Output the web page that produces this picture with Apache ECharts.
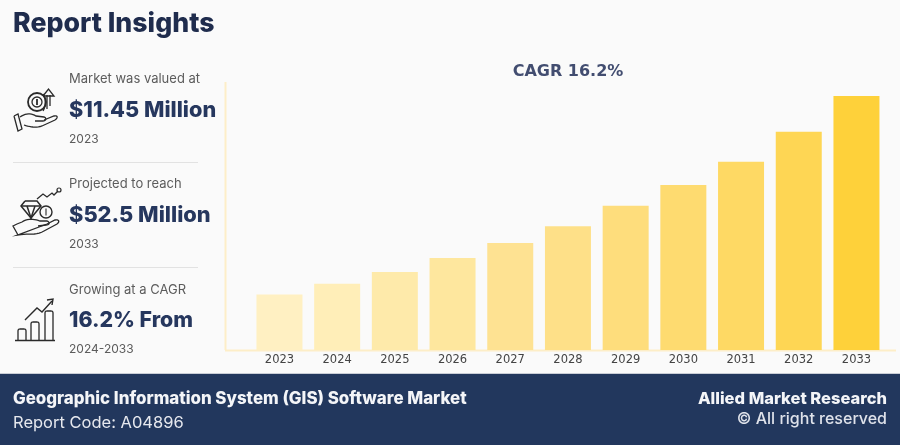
<!DOCTYPE html>
<html>
<head>
<meta charset="utf-8">
<style>html,body{margin:0;padding:0;background:#fafafa}#c{width:900px;height:445px}</style>
<script src="https://cdn.jsdelivr.net/npm/echarts@6/dist/echarts.min.js"></script>
</head>
<body>
<div id="c"></div>
<script>
const categories = ['2023','2024','2025','2026','2027','2028','2029','2030','2031','2032','2033'];
const marketValues = [11.45, 13.7, 16.1, 19.0, 22.1, 25.6, 29.8, 34.1, 38.9, 45.1, 52.5];
const barColors = ['#FFF0C2','#FFEEB8','#FEEAAA','#FEE79E','#FEE292','#FEE088','#FEDD7C','#FEDB70','#FED964','#FED654','#FED13A'];
const chartTitle = 'CAGR 16.2%';

const NAVY = '#26375e', INK = '#1f2c4d', GREY = '#5c5c5c', ICON = '#2a2a2a', LINE = '#fdeec8';
const SANS = 'Inter, "Noto Sans", sans-serif';

function text(t, x, y, size, weight, fill, align) {
  return { type:'text', x, y, silent:true, style:{ text:t, fontSize:size, fontWeight:weight, fontFamily:SANS, fill, align:align||'left', verticalAlign:'middle' } };
}
function stroke(w){ return { fill:'none', stroke:ICON, lineWidth:w||1.3 }; }
// Decorative icon outlines: flatten a small SVG-like path string to polylines.
function path(d, w){
  const tokens = d.match(/[MLCQZ]|-?[\d.]+/g), out = [];
  let i = 0, pts = [], cur = [0,0], start = [0,0];
  const num = () => parseFloat(tokens[i++]);
  const flush = () => { if (pts.length > 1) out.push({ type:'polyline', silent:true, shape:{ points:pts }, style:stroke(w) }); pts = []; };
  while (i < tokens.length) {
    const c = tokens[i++];
    if (c === 'M') { flush(); cur = [num(),num()]; start = cur; pts = [cur]; }
    else if (c === 'L') { cur = [num(),num()]; pts.push(cur); }
    else if (c === 'Z') { pts.push(start); cur = start; }
    else if (c === 'Q') {
      const a=[num(),num()], b=[num(),num()], p=cur;
      for (let k=1;k<=8;k++){ const t=k/8,u=1-t; pts.push([u*u*p[0]+2*u*t*a[0]+t*t*b[0], u*u*p[1]+2*u*t*a[1]+t*t*b[1]]); }
      cur = b;
    } else if (c === 'C') {
      const a=[num(),num()], b=[num(),num()], e=[num(),num()], p=cur;
      for (let k=1;k<=10;k++){ const t=k/10,u=1-t; pts.push([0,1].map(j=>u*u*u*p[j]+3*u*u*t*a[j]+3*u*t*t*b[j]+t*t*t*e[j])); }
      cur = e;
    }
  }
  flush();
  return out;
}
function circle(cx, cy, r, w){ return { type:'circle', silent:true, shape:{cx,cy,r}, style:stroke(w) }; }
function rule(x1,y1,x2,y2,color,w){ return { type:'line', silent:true, shape:{x1,y1,x2,y2}, style:{ stroke:color, lineWidth:w } }; }

const HAND1 = 'M14 116 L18 114 L22 129 L18 131 Z M20 117 C26 113 31 113 36 116 L44 117 C47 118 46 121 43 121 L35 121 M44 120 L54 116 C58 115 58 118 55 120 L42 126 C36 128 30 127 24 125';
const HAND2 = 'M18 235 L13 226 L17 224 L22 222 C28 218 34 219 40 221 L47 221 C50 222 50 225 46 225 L38 226 M47 224 L55 220 C59 219 60 222 57 224 L44 231 C36 236 28 233 18 235 Z';

const gfx = [
  { type:'rect', silent:true, z:-1, shape:{x:0,y:373,width:900,height:72}, style:{fill:'#22375d'} },
  rule(0,373.5,900,373.5,'#c9cdd6',1),
  rule(225.5,82,225.5,350,LINE,2),
  rule(225,350.5,896,350.5,LINE,2),
  rule(13,162.5,198,162.5,'#e2e2e2',1),
  rule(13,267.5,198,267.5,'#e2e2e2',1),

  text('Report Insights',13,24,26.7,800,INK),
  text('Market was valued at',69,79,13,400,GREY),
  text('$11.45 Million',69,110,21.7,800,NAVY),
  text('2023',69,139,12,400,GREY),
  text('Projected to reach',69,184,13,400,GREY),
  text('$52.5 Million',69,215,21.8,800,NAVY),
  text('2033',69,244,12,400,GREY),
  text('Growing at a CAGR',69,290,13,400,GREY),
  text('16.2% From',69,321,21.3,800,NAVY),
  text('2024-2033',69,349,12,400,GREY),

  text('Geographic Information System (GIS) Software Market',13,399,16.9,800,'#f4f5f8'),
  text('Report Code: A04896',13,423,16.5,400,'#e6e8ee'),
  text('Allied Market Research',887,399,16.5,800,'#f4f5f8','right'),
  text('\u00A9 All right reserved',887,419,16,500,'#dfe2ea','right'),

  // icon 1
  ...path(HAND1),
  circle(37,102,9,1.8), circle(37,102,5,1.3),
  ...path('M37 99 L37 105',1.8),
  ...path('M43 94 C46 98 46 106 43 111 M47 109 L47 95 M50 95 L50 106 M43 96 L48.5 89 L54 96 Z'),
  // icon 2
  ...path(HAND2),
  ...path('M25 201 L37 201 L41 206 L31 218 L21 206 Z M21 206 L41 206 M27 206 L31 218 L35 206',1.5),
  circle(46,212,6,1.4),
  ...path('M46 208.5 L46 215.5',1.1),
  ...path('M37 199 L43 194 L47 197 L52 193 L54 195 L58 191'),
  circle(59,190,2,1.2),
  // icon 3
  rule(15,340.5,55,340.5,ICON,1.6),
  ...path('M18 340 L18 331 Q18 329 20 329 L24 329 Q26 329 26 331 L26 340'),
  ...path('M31 340 L31 324 Q31 322 33 322 L37 322 Q39 322 39 324 L39 340'),
  ...path('M45 340 L45 313 Q45 311 47 311 L51 311 Q53 311 53 313 L53 340'),
  ...path('M25 320 L37 308 L42 312 L52 301 M47 300 L53 299 L52 305',1.4),
];

const chart = echarts.init(document.getElementById('c'), null, { renderer:'canvas' });
chart.setOption({
  animation:false,
  backgroundColor:'#fafafa',
  title:{ text:chartTitle, left:563, top:59, textAlign:'center',
    textStyle:{ fontFamily:'"DejaVu Sans"', fontSize:16, fontWeight:'bold', color:'#424d70' } },
  grid:{ left:250.6, right:14.7, top:50, bottom:95 },
  xAxis:{ type:'category', data:categories, axisLine:{show:false}, axisTick:{show:false},
    axisLabel:{ margin:4, fontFamily:'"DejaVu Sans"', fontSize:11.5, color:'#444', interval:0 } },
  yAxis:{ type:'value', min:0, max:62, show:false },
  series:[{ type:'bar', data:marketValues.map((v,i)=>({ value:v, itemStyle:{ color:barColors[i] } })), barWidth:46, silent:true }],
  graphic:{ elements:gfx }
});
</script>
</body>
</html>
